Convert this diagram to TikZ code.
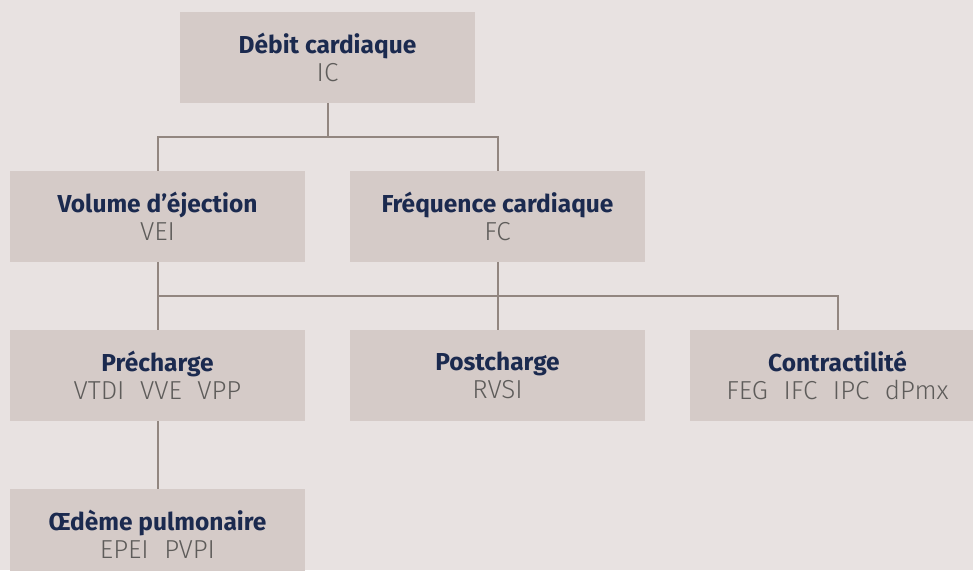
\documentclass[tikz,border=0pt]{standalone}
\usepackage{fontspec}
\setmainfont{Fira Sans}
\newfontfamily\subf{Fira Sans Light}
\definecolor{bgc}{HTML}{E8E2E1}
\definecolor{boxc}{HTML}{D5CBC8}
\definecolor{linec}{HTML}{928680}
\definecolor{titc}{HTML}{1B2A4F}
\definecolor{subc}{HTML}{5E5C5A}
\newcommand{\bx}[2]{{\fontsize{24.5}{28.5}\selectfont\bfseries\color{titc}#1}\\{\subf\fontsize{26}{28.5}\selectfont\color{subc}#2}}
\newcommand{\gp}{\hspace{0.6em}}
\begin{document}
\begin{tikzpicture}[x=1pt,y=-1pt,
  box/.style={fill=boxc, minimum width=295pt, minimum height=91pt, inner sep=0pt, align=center, font=\fontsize{24.5}{28.5}\selectfont},
  conn/.style={draw=linec, line width=2pt}]
\useasboundingbox (0,0) rectangle (973,570);
\fill[bgc] (0,0) rectangle (973,570);
\clip (0,0) rectangle (973,570);
\node[box] (deb) at (327.5,57.5) {\bx{Débit cardiaque}{IC}};
\node[box] (vol) at (157.5,216.5) {\bx{Volume d’éjection}{VEI}};
\node[box] (fre) at (497.5,216.5) {\bx{Fréquence cardiaque}{FC}};
\node[box] (pre) at (157.5,375.5) {\bx{Précharge}{VTDI\gp VVE\gp VPP}};
\node[box] (pos) at (497.5,375.5) {\bx{Postcharge}{RVSI}};
\node[box] (con) at (837.5,375.5) {\bx{Contractilité}{FEG\gp IFC\gp IPC\gp dPmx}};
\node[box] (oed) at (157.5,534.5) {\bx{Œdème pulmonaire}{EPEI\gp PVPI}};
\coordinate (j1) at (327.5,137);
\coordinate (j2) at (157.5,296);
\draw[conn] (deb.south) -- (j1);
\draw[conn] (vol.north) |- (j1) -| (fre.north);
\draw[conn] (vol.south) -- (pre.north);
\draw[conn] (fre.south) -- (pos.north);
\draw[conn] (j2) -| (con.north);
\draw[conn] (pre.south) -- (oed.north);
\end{tikzpicture}
\end{document}
